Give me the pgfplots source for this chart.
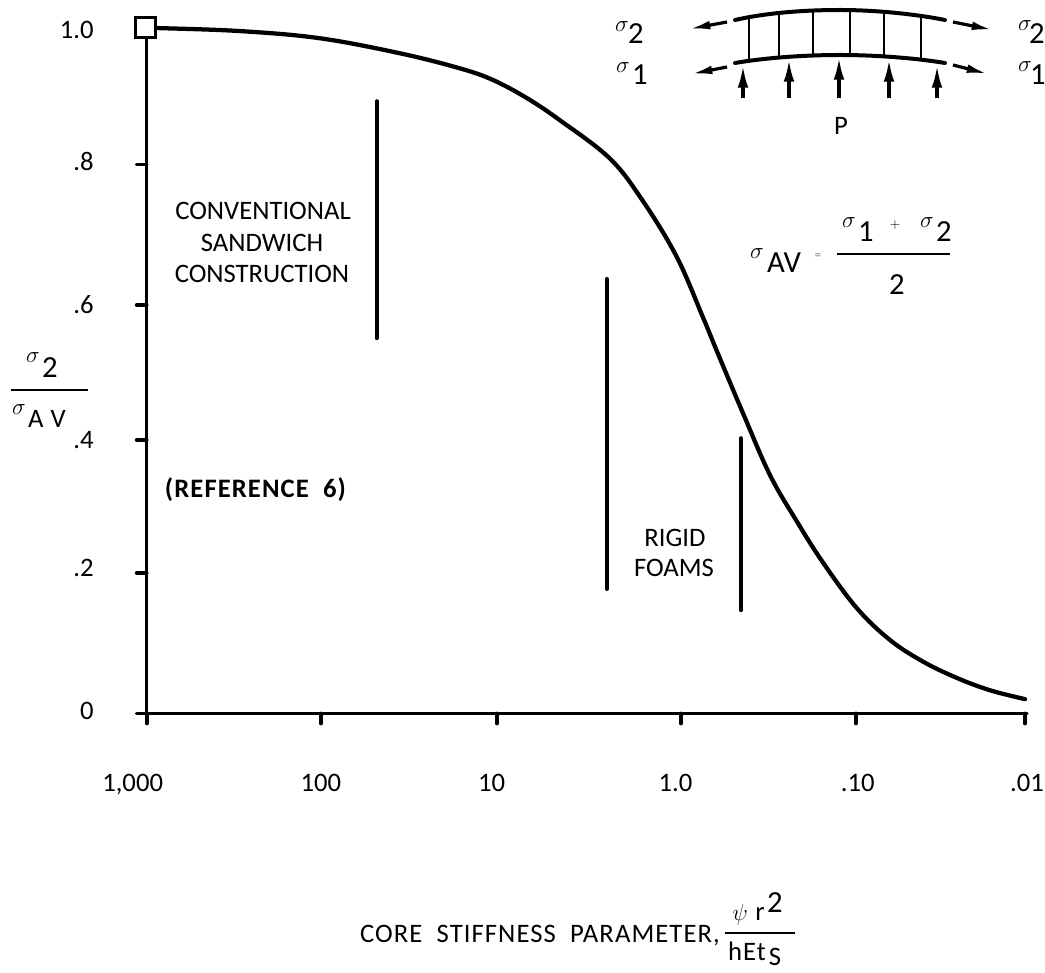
\documentclass[border=0pt]{standalone}
\usepackage{fontspec}
\usepackage{pgfplots}
\pgfplotsset{compat=1.18}
\usetikzlibrary{arrows.meta}
\setmainfont{Carlito}
\newfontfamily\lab{Carlito}
\newfontfamily\labw[LetterSpace=4]{Carlito}
\newcommand{\T}{\fontsize{20}{24}\selectfont\lab}
\newcommand{\Tb}{\fontsize{23}{26}\selectfont\lab}
\newcommand{\Tw}{\fontsize{20}{24}\selectfont\labw}
\newcommand{\lx}[2]{\makebox[0pt][c]{\hspace*{#1}#2}}
\newcommand{\ly}[2]{\raisebox{#1}{#2}}
\pgfplotstableread{
x y
3.000 1.0030
2.955 1.0030
2.472 0.9985
2.017 0.988
1.562 0.966
1.222 0.944
1.034 0.927
0.841 0.9005
0.653 0.868
0.369 0.812
0.182 0.750
-0.011 0.668
-0.159 0.580
-0.239 0.530
-0.386 0.440
-0.540 0.349
-0.693 0.281
-0.841 0.221
-1.034 0.154
-1.222 0.1075
-1.409 0.076
-1.602 0.052
-1.790 0.034
-1.989 0.021
}\curve
\begin{document}
\begin{tikzpicture}
\begin{axis}[
  at={(110pt,-535.125pt)},anchor=south west,
  scale only axis,width=660.25pt,height=512.6pt,
  xmin=-2,xmax=3,ymin=0,ymax=1,x dir=reverse,
  axis x line=bottom,axis y line=left,
  axis line style={-,line width=2.6pt,line cap=round},
  clip=false,
  tick align=outside,
  major tick length=7.5pt,
  tick style={line width=2.8pt,black,line cap=round},
  xtick={3,2.011,1.011,-0.034,-1.027,-1.989},
  xticklabels={\lx{-21pt}{1,000},\lx{0pt}{100},\lx{-8pt}{10},\lx{-8pt}{1.0},\lx{3pt}{.10},\lx{3pt}{.01}},
  xticklabel style={font=\T,anchor=base,inner sep=0pt,yshift=-51pt},
  ytick={0,0.2056,0.400,0.5977,0.8032,1},
  yticklabels={\ly{3.8pt}{0},\ly{7.5pt}{.2},\ly{-3pt}{.4},\ly{0pt}{.6},\ly{5pt}{.8},\ly{-9pt}{1.0}},
  yticklabel style={font=\T,anchor=east,inner sep=0pt,xshift=-32pt},
]
\addplot[black,line width=3.2pt,smooth,tension=0.6,line cap=round] table[x=x,y=y]{\curve};
\addplot[black,line width=2.8pt,line cap=round] coordinates {(1.693,0.896)(1.693,0.549)};
\addplot[black,line width=2.8pt,line cap=round] coordinates {(0.386,0.636)(0.386,0.182)};
\addplot[black,line width=2.8pt,line cap=round] coordinates {(-0.375,0.403)(-0.375,0.151)};
\addplot[only marks,mark=square*,mark size=7.6pt,mark options={fill=white,draw=black,line width=2.4pt}] coordinates {(3.006,1.0037)};
\end{axis}
\begin{scope}[x=0.75pt,y=-0.75pt]
% text
\node[anchor=base,font=\T] at (263,220) {CONVENTIONAL};
\node[anchor=base,font=\T] at (262,252) {SANDWICH};
\node[anchor=base,font=\T] at (262,283) {CONSTRUCTION};
\node[anchor=base,font=\Tw] at (256,497) {\textbf{(REFERENCE\ \ 6)}};
\node[anchor=base,font=\T] at (675,546) {RIGID};
\node[anchor=base,font=\T] at (674,576) {FOAMS};
\node[anchor=base,font=\Tw] at (540,942) {CORE\ \ STIFFNESS\ \ PARAMETER,};
% x-axis parameter fraction
\draw[line width=2pt] (725,933)--(795,933);
\node[anchor=base] at (740,920) {\LARGE$\psi$};
\node[anchor=base,font=\T] at (760,920) {r};
\node[anchor=base,font=\Tb] at (775,912) {2};
\node[anchor=base,font=\Tw] at (747,960) {hEt};
\node[anchor=base,font=\T,inner sep=0pt] at (775,965) {S};
% y label
\draw[line width=2pt] (11,390)--(88,390);
\node[anchor=base] at (33,363) {\LARGE$\sigma$};
\node[anchor=base,font=\Tb] at (50,377) {2};
\node[anchor=base] at (19,414) {\LARGE$\sigma$};
\node[anchor=base,font=\Tw] at (47,427) {A\ V};
% diagram
\draw[line width=3pt,line cap=round] (735,20) .. controls (770,12) and (810,10) .. (840,10) .. controls (875,10) and (915,14) .. (945,20);
\draw[line width=3pt,line cap=round] (735,63) .. controls (770,57) and (810,55) .. (840,55) .. controls (875,55) and (915,58) .. (945,63);
\foreach \x/\a/\b in {749/18/61,779/14/57,813/12/55,850/11/55,884/13/56,921/17/60}
  \draw[line width=1.6pt] (\x,\a)--(\x,\b);
\foreach \x/\t in {743/65,789/59,839/57,889/59,937/65}
  \draw[line width=2.6pt,-{Latex[length=17pt,width=8pt]}] (\x,98)--(\x,\t);
\draw[line width=2.4pt,-{Latex[length=16pt,width=6.5pt]}] (727,22)--(689,29);
\draw[line width=2.4pt,-{Latex[length=16pt,width=6.5pt]}] (727,67)--(691,74);
\draw[line width=2.4pt,-{Latex[length=16pt,width=6.5pt]}] (953,22)--(993,30);
\draw[line width=2.4pt,-{Latex[length=16pt,width=6.5pt]}] (953,65)--(988,74);
\node[anchor=base] at (622,32) {\LARGE$\sigma$};
\node[anchor=base,font=\Tb] at (636,44) {2};
\node[anchor=base] at (623,73) {\LARGE$\sigma$};
\node[anchor=base,font=\Tb] at (640,85) {1};
\node[anchor=base] at (1025,31) {\LARGE$\sigma$};
\node[anchor=base,font=\Tb] at (1037,44) {2};
\node[anchor=base] at (1025,72) {\LARGE$\sigma$};
\node[anchor=base,font=\Tb] at (1038,85) {1};
\node[anchor=base,font=\T] at (841,135) {P};
% formula
\node[anchor=base] at (757,259) {\LARGE$\sigma$};
\node[anchor=base,font=\Tb] at (784,273) {AV};
\node[anchor=base,text=gray] at (818,260) {=};
\draw[line width=1.8pt] (837,254)--(950,254);
\node[anchor=base] at (849,228) {\LARGE$\sigma$};
\node[anchor=base,font=\Tb] at (866,242) {1};
\node[anchor=base] at (895,229) {$+$};
\node[anchor=base] at (927,228) {\LARGE$\sigma$};
\node[anchor=base,font=\Tb] at (944,242) {2};
\node[anchor=base,font=\Tb] at (897,295) {2};
\end{scope}
\pgfresetboundingbox
\useasboundingbox (0,0) rectangle (783.75pt,-729.75pt);
\end{tikzpicture}
\end{document}
